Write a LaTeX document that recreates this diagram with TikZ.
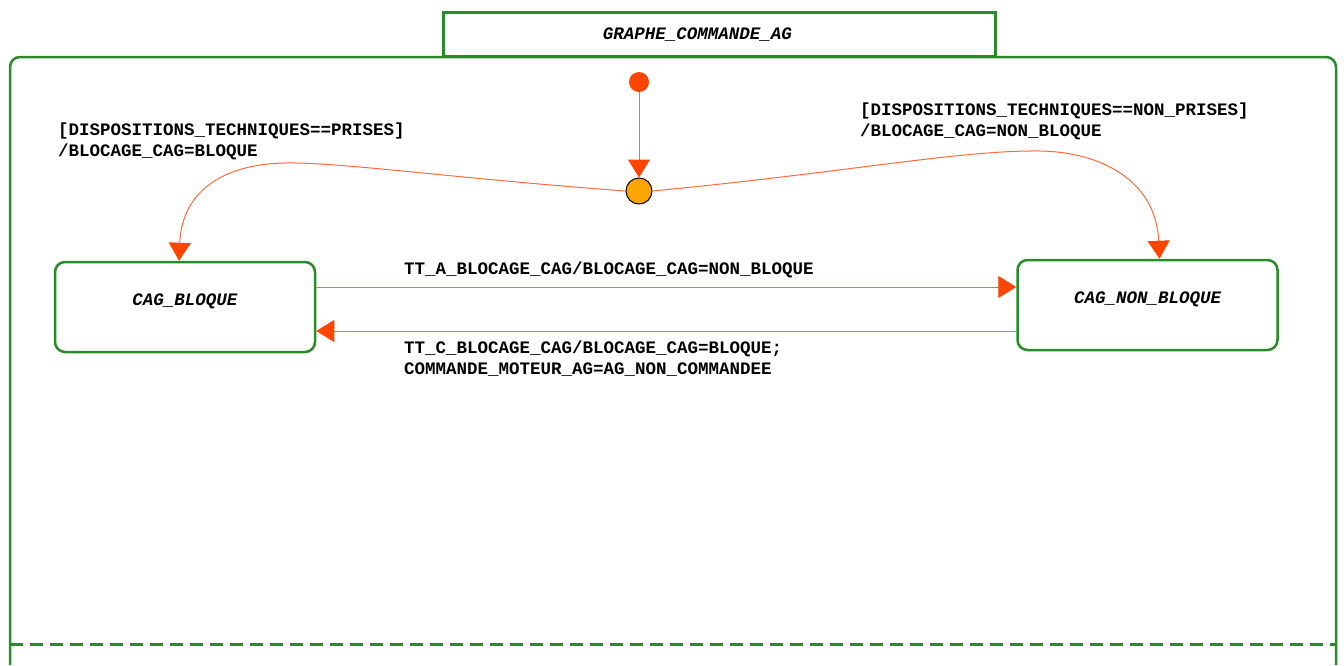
\documentclass[tikz,border=0pt]{standalone}
\usepackage{fontspec}
\setmonofont{Liberation Mono}
\usepackage{xcolor}
\usetikzlibrary{
    arrows.meta,
    positioning,
    calc
}
\definecolor{vert}{RGB}{40,140,40}
\definecolor{trait}{RGB}{255,106,61}
\definecolor{pointe}{RGB}{255,69,0}
\definecolor{jaune}{RGB}{255,165,0}

\begin{document}
\begin{tikzpicture}[x=1pt, y=-1pt,
    font=\ttfamily\bfseries\fontsize{17.5}{20.5}\selectfont,
    etat/.style={draw=vert, line width=2.5pt, rounded corners=10pt, minimum width=260pt,
                 minimum height=90pt, text height=10pt, text depth=14pt,
                 font=\ttfamily\bfseries\itshape\fontsize{17.5}{20.5}\selectfont},
    titre/.style={draw=vert, line width=2.5pt, minimum width=552pt, minimum height=44pt},
    init/.style={circle, fill=pointe, minimum size=20pt, inner sep=0pt},
    jonction/.style={circle, draw=black, line width=1pt, fill=jaune, minimum size=26pt, inner sep=0pt},
    trans/.style={draw=trait, line width=1pt, -{Triangle[width=22pt, length=18pt, color=pointe]}},
    lab/.style={anchor=base west, inner sep=0pt, align=left}]

    \useasboundingbox (0,0) rectangle (1344,665);

    % ============ CADRE ============
    \draw[vert, line width=2.5pt, rounded corners=10pt] (10,665) -- (10,57) -- (1336,57) -- (1336,665);
    \draw[vert, line width=3pt, dash pattern=on 13pt off 7pt] (10,644) -- (1336,644);

    \node[titre, fill=white] (GC) at (719.5,34.5) {};
    \node[font=\ttfamily\bfseries\itshape\fontsize{17.5}{20.5}\selectfont] (GCt) at ([xshift=-22pt]GC.center)
      {GRAPHE\_COMMANDE\_AG};

    % ============ ETATS ============
    \node[etat] (CB)  at (185,307)    {CAG\_BLOQUE};
    \node[etat] (CNB) at (1147.5,305) {CAG\_NON\_BLOQUE};

    \node[init] (I) at (639,82) {};
    \node[jonction] (J) at (639,191) {};

    % ============ TRANSITIONS ============
    \draw[trans] (I) -- (J);

    \draw[trans] (J.west) .. controls (450,178) and (340,162) .. (285,163)
      .. controls (225,164) and (182,190) .. ([xshift=-6pt]CB.north);
    \node[lab] (lP) at (58,156)
      {[DISPOSITIONS\_TECHNIQUES==PRISES]\\/BLOCAGE\_CAG=BLOQUE};

    \draw[trans] (J.east) .. controls (850,172) and (960,150) .. (1040,151)
      .. controls (1100,152) and (1156,180) .. ([xshift=12pt]CNB.north);
    \node[lab] (lNP) at (860,136)
      {[DISPOSITIONS\_TECHNIQUES==NON\_PRISES]\\/BLOCAGE\_CAG=NON\_BLOQUE};

    \draw[trans] (CB.east |- 0,287) -- (CNB.west |- 0,287);
    \node[lab] (lA) at (404,274) {TT\_A\_BLOCAGE\_CAG/BLOCAGE\_CAG=NON\_BLOQUE};

    \draw[trans] (CNB.west |- 0,331) -- (CB.east |- 0,331);
    \node[lab] (lC) at (404,374)
      {TT\_C\_BLOCAGE\_CAG/BLOCAGE\_CAG=BLOQUE;\\COMMANDE\_MOTEUR\_AG=AG\_NON\_COMMANDEE};

\end{tikzpicture}
\end{document}
